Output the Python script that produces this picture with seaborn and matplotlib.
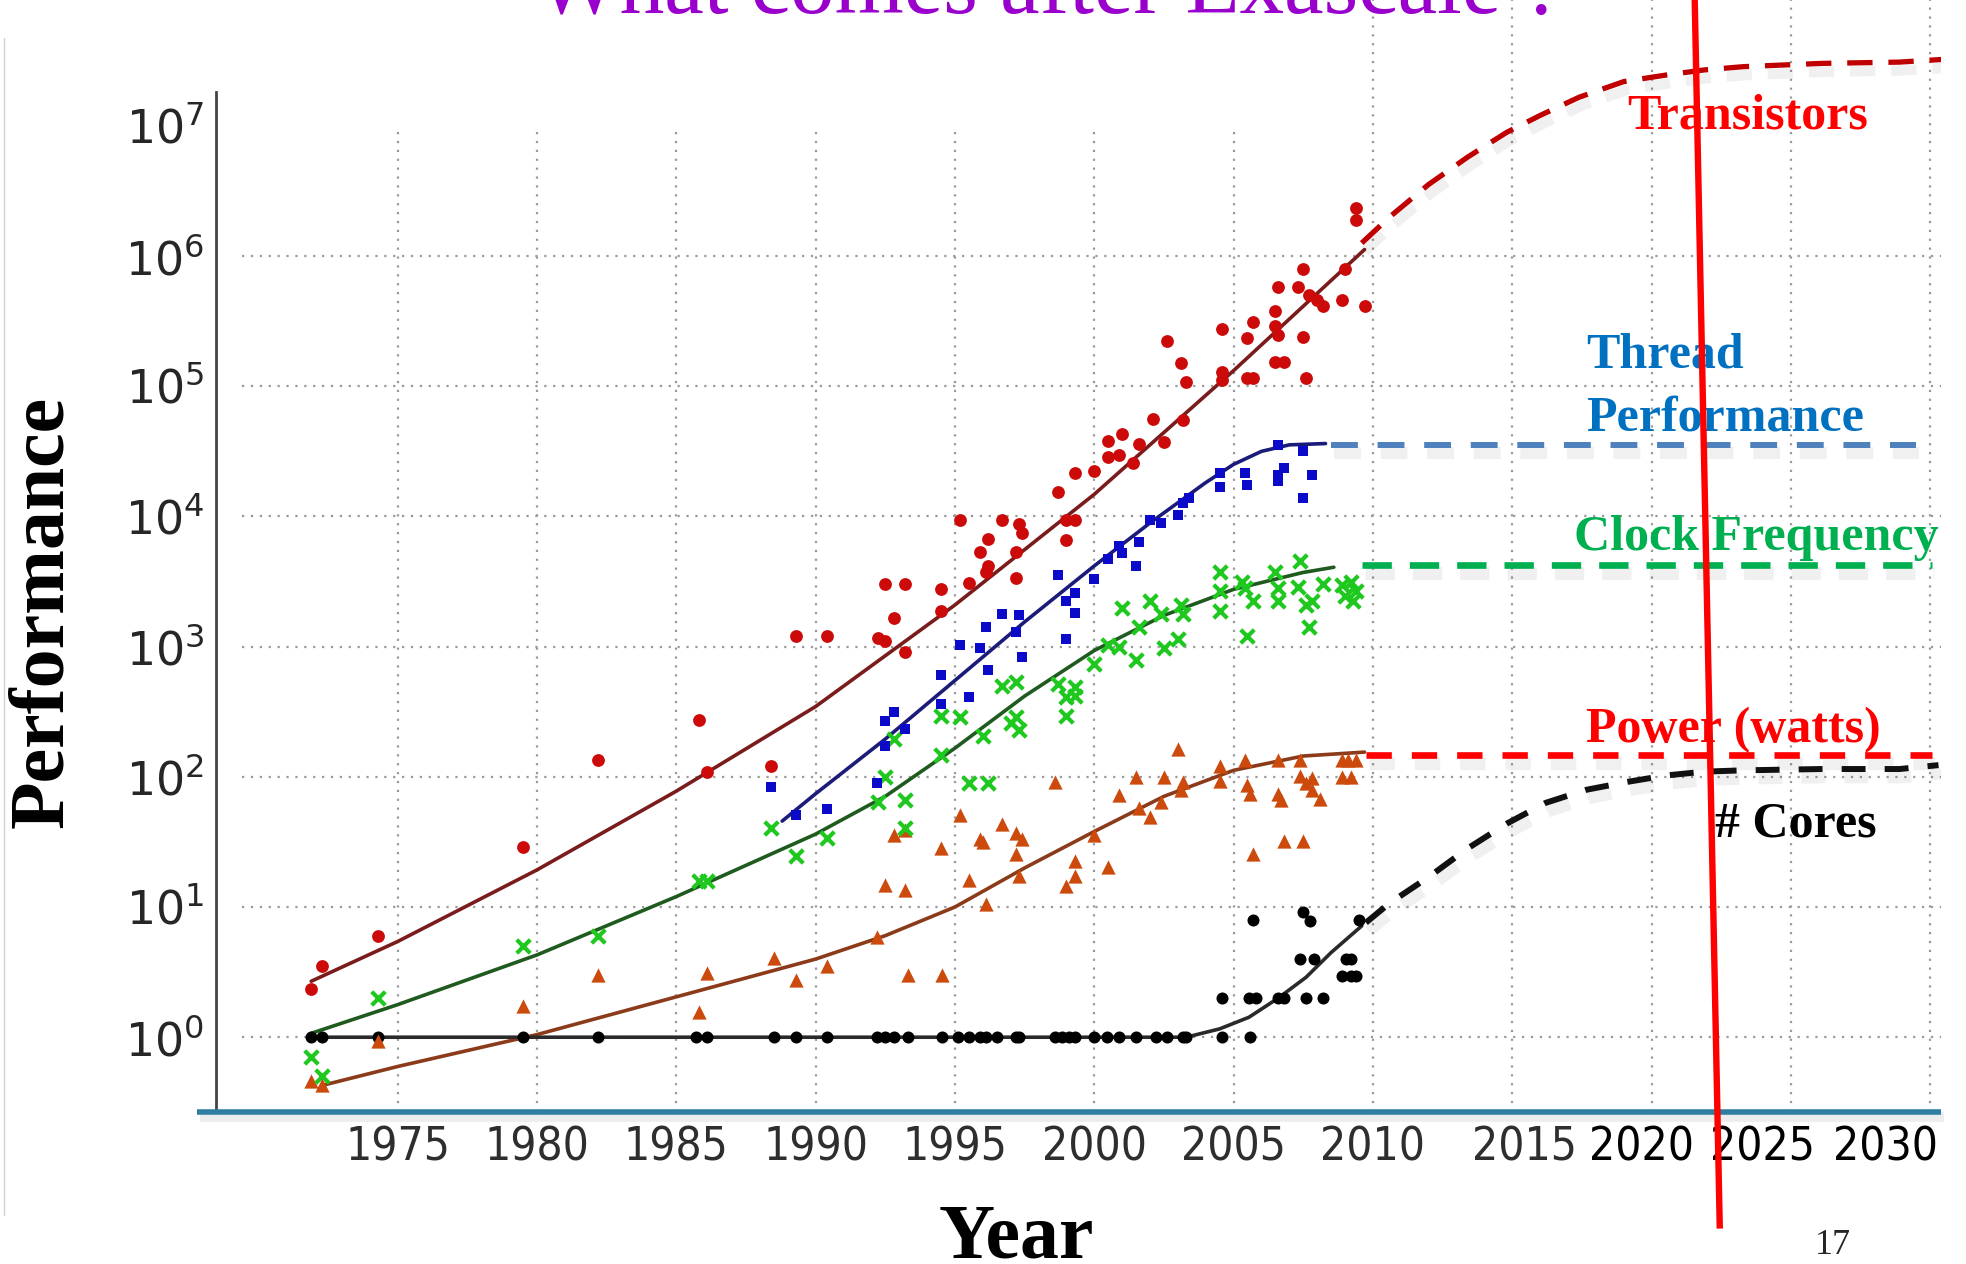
import numpy as np
import matplotlib
matplotlib.use('Agg')
import matplotlib.pyplot as plt
import matplotlib.patheffects as pe
from matplotlib import font_manager as fm
from matplotlib.lines import Line2D
from matplotlib.ticker import FixedLocator, NullFormatter
import seaborn as sns
import warnings
warnings.filterwarnings('ignore')

sns.set_style('white')
plt.rcParams['font.family'] = ['DejaVu Sans']

# ---------------- data (values as log10) ----------------
tr_year = [1971.9, 1972.3, 1974.3, 1979.5, 1982.2, 1985.8, 1986.1, 1988.4, 1989.3, 1990.4,
           1992.25, 1992.5, 1992.8, 1993.2, 1992.5, 1993.2, 1994.5, 1994.5, 1995.2, 1995.5,
           1995.9, 1996.2, 1996.2, 1996.1, 1996.7, 1997.2, 1997.2, 1997.3, 1997.4, 1998.7,
           1999.0, 1999.0, 1999.3, 1999.3, 2000.0, 2000.5, 2001.0, 2000.5, 2000.9, 2001.4,
           2001.6, 2002.1, 2002.5, 2003.2, 2002.6, 2003.1, 2003.3, 2004.6, 2004.6, 2004.6,
           2005.5, 2005.7, 2005.5, 2005.7, 2006.5, 2006.6, 2006.5, 2006.6, 2006.5, 2006.8,
           2007.5, 2007.3, 2007.5, 2007.6, 2007.7, 2008.0, 2008.2, 2008.9, 2009.0, 2009.4,
           2009.4, 2009.7]
tr_log = [0.37, 0.55, 0.78, 1.46, 2.13, 2.44, 2.04, 2.08, 3.08, 3.08,
          3.07, 3.04, 3.22, 2.96, 3.48, 3.48, 3.44, 3.27, 3.97, 3.49,
          3.73, 3.83, 3.62, 3.57, 3.97, 3.73, 3.53, 3.94, 3.87, 4.19,
          3.82, 3.97, 3.97, 4.33, 4.35, 4.58, 4.63, 4.46, 4.47, 4.41,
          4.56, 4.75, 4.57, 4.74, 5.35, 5.18, 5.03, 5.44, 5.11, 5.05,
          5.37, 5.49, 5.06, 5.06, 5.58, 5.76, 5.46, 5.39, 5.19, 5.19,
          5.90, 5.76, 5.38, 5.06, 5.70, 5.66, 5.62, 5.66, 5.90, 6.37,
          6.28, 5.62]

th_year = [1988.4, 1989.3, 1990.4, 1992.2, 1992.5, 1992.5, 1992.8, 1993.2, 1994.5, 1994.5,
           1995.2, 1995.5, 1995.9, 1996.1, 1996.2, 1996.7, 1997.2, 1997.3, 1997.4, 1998.7,
           1999.0, 1999.3, 1999.3, 1999.0, 2000.0, 2000.5, 2000.9, 2001.0, 2001.5, 2001.6,
           2002.0, 2002.4, 2003.0, 2003.2, 2003.4, 2004.5, 2004.5, 2005.4, 2005.5, 2006.6,
           2006.6, 2006.8, 2006.6, 2007.5, 2007.8, 2007.5]
th_log = [1.92, 1.71, 1.75, 1.95, 2.24, 2.43, 2.50, 2.37, 2.56, 2.78,
          3.01, 2.61, 2.99, 3.15, 2.82, 3.25, 3.11, 3.24, 2.92, 3.55,
          3.35, 3.41, 3.26, 3.06, 3.52, 3.67, 3.77, 3.72, 3.62, 3.80,
          3.97, 3.95, 4.01, 4.10, 4.14, 4.33, 4.23, 4.33, 4.24, 4.55,
          4.32, 4.37, 4.27, 4.50, 4.32, 4.14]

ck_year = [1971.9, 1972.3, 1974.3, 1979.5, 1982.2, 1985.8, 1986.1, 1988.4, 1989.3, 1990.4,
           1992.25, 1992.5, 1992.8, 1993.2, 1993.2, 1994.5, 1994.5, 1995.2, 1995.5, 1996.2,
           1996.0, 1997.0, 1997.2, 1997.3, 1996.7, 1997.2, 1998.7, 1999.0, 1999.0, 1999.3,
           1999.3, 2000.0, 2000.5, 2000.9, 2001.5, 2001.0, 2001.6, 2002.0, 2002.4, 2002.5,
           2003.0, 2003.1, 2003.2, 2004.5, 2004.5, 2004.5, 2005.3, 2005.4, 2005.7, 2005.5,
           2006.5, 2006.6, 2006.6, 2007.4, 2007.3, 2007.6, 2007.8, 2007.7, 2008.2, 2008.9,
           2009.2, 2009.4, 2009.0, 2009.3]
ck_log = [-0.15, -0.30, 0.30, 0.70, 0.78, 1.20, 1.20, 1.61, 1.39, 1.53,
          1.81, 2.00, 2.29, 1.82, 1.61, 2.17, 2.47, 2.46, 1.95, 1.95,
          2.31, 2.41, 2.46, 2.36, 2.70, 2.73, 2.71, 2.61, 2.47, 2.69,
          2.62, 2.87, 3.01, 3.00, 2.90, 3.30, 3.15, 3.35, 3.25, 2.99,
          3.06, 3.32, 3.25, 3.57, 3.43, 3.27, 3.50, 3.45, 3.35, 3.08,
          3.57, 3.45, 3.35, 3.66, 3.46, 3.32, 3.35, 3.15, 3.48, 3.47,
          3.50, 3.43, 3.39, 3.35]

pw_year = [1971.9, 1972.3, 1974.3, 1979.5, 1982.2, 1985.8, 1986.1, 1988.5, 1989.3, 1990.4,
           1992.2, 1992.5, 1993.2, 1993.3, 1994.55, 1995.5, 1996.1, 1992.8, 1993.2, 1994.5,
           1995.2, 1995.9, 1996.0, 1996.7, 1997.2, 1997.4, 1997.2, 1997.3, 1998.6, 1999.0,
           1999.3, 1999.3, 2000.0, 2000.5, 2000.9, 2001.5, 2001.6, 2002.0, 2002.4, 2002.5,
           2003.0, 2003.1, 2003.2, 2004.5, 2004.5, 2005.4, 2005.5, 2005.6, 2005.7, 2006.6,
           2006.6, 2006.7, 2006.8, 2007.4, 2007.4, 2007.5, 2007.6, 2007.8, 2007.8, 2008.1,
           2008.9, 2009.1, 2009.4, 2008.9, 2009.2]
pw_log = [-0.34, -0.37, -0.03, 0.24, 0.48, 0.19, 0.49, 0.61, 0.44, 0.55,
          0.77, 1.17, 1.13, 0.48, 0.48, 1.21, 1.02, 1.55, 1.59, 1.45,
          1.71, 1.52, 1.50, 1.64, 1.57, 1.52, 1.41, 1.24, 1.96, 1.16,
          1.35, 1.24, 1.55, 1.31, 1.86, 2.00, 1.76, 1.69, 1.81, 2.00,
          2.21, 1.90, 1.96, 2.08, 1.97, 2.13, 1.94, 1.87, 1.41, 2.13,
          1.87, 1.82, 1.51, 2.13, 2.01, 1.51, 1.95, 1.99, 1.90, 1.83,
          2.13, 2.13, 2.13, 2.00, 2.00]

co_year = [1971.9, 1972.3, 1974.3, 1979.5, 1982.2, 1985.7, 1986.1, 1988.5, 1989.3, 1990.4,
           1992.2, 1992.5, 1992.8, 1993.3, 1994.55, 1995.1, 1995.5, 1995.9, 1996.1, 1996.5,
           1997.2, 1997.3, 1998.6, 1998.85, 1999.1, 1999.3, 2000.0, 2000.45, 2000.9, 2001.5,
           2002.2, 2002.6, 2003.2, 2003.3, 2004.6, 2005.6,
           2004.6, 2005.55, 2005.8, 2006.6, 2006.8, 2007.6, 2008.2, 2005.7, 2007.5, 2007.75,
           2007.4, 2007.9, 2009.05, 2009.2, 2008.9, 2009.2, 2009.4, 2009.5]
co_log = [0.0] * 36 + [0.30, 0.30, 0.30, 0.30, 0.30, 0.30, 0.30, 0.90, 0.96, 0.89,
                       0.60, 0.60, 0.60, 0.60, 0.47, 0.47, 0.47, 0.90]

# fitted trend curves
tr_fit_year = [1971.9, 1975, 1980, 1985, 1990, 1995, 2000, 2005, 2009.7]
tr_fit_log = [0.43, 0.735, 1.285, 1.89, 2.54, 3.32, 4.17, 5.12, 6.05]
th_fit_year = [1988.8, 1990, 1992.5, 1995, 1997.5, 2000, 2002, 2004, 2005, 2006, 2007, 2008.3]
th_fit_log = [1.66, 1.87, 2.29, 2.74, 3.19, 3.62, 3.95, 4.26, 4.40, 4.50, 4.55, 4.56]
ck_fit_year = [1971.9, 1975, 1980, 1985, 1990, 1992.5, 1995, 1997.5, 2000, 2002.5, 2005, 2007.5, 2008.6]
ck_fit_log = [0.03, 0.25, 0.632, 1.08, 1.56, 1.85, 2.22, 2.62, 2.97, 3.24, 3.44, 3.57, 3.61]
pw_fit_year = [1972.3, 1975, 1980, 1985, 1990, 1992.5, 1995, 1997.5, 2000, 2002.5, 2005, 2007.5, 2009.7]
pw_fit_log = [-0.37, -0.225, 0.02, 0.31, 0.60, 0.78, 1.00, 1.30, 1.58, 1.85, 2.05, 2.16, 2.19]
co_fit_year = [1972, 2003.3, 2004.5, 2005.55, 2006.6, 2007.6, 2008.5, 2009.6]
co_fit_log = [0, 0, 0.064, 0.153, 0.30, 0.46, 0.65, 0.855]

# projected (dashed) extensions
tr_ext_year = [2009.6, 2010.6, 2012.0, 2013.4, 2014.8, 2016.0, 2017.4, 2019.0, 2020.5, 2021.9,
               2023.3, 2026.1, 2028.9, 2030.4]
tr_ext_log = [6.10, 6.30, 6.55, 6.76, 6.95, 7.08, 7.22, 7.34, 7.39, 7.43,
              7.455, 7.48, 7.49, 7.51]
th_ext_year = [2008.5, 2029.5]
th_ext_log = [4.55, 4.55]
ck_ext_year = [2009.6, 2030.05]
ck_ext_log = [3.63, 3.63]
pw_ext_year = [2009.75, 2030.05]
pw_ext_log = [2.17, 2.17]
co_ext_year = [2009.75, 2010.6, 2012.0, 2013.4, 2014.8, 2016.2, 2017.65, 2019.1, 2020.5, 2021.9,
               2023.3, 2026.1, 2028.9, 2030.3]
co_ext_log = [0.88, 1.03, 1.23, 1.45, 1.64, 1.80, 1.90, 1.96, 2.01, 2.04,
              2.05, 2.06, 2.06, 2.09]

grid_years = [1975, 1980, 1985, 1990, 1995, 2000, 2005, 2010, 2015, 2020, 2025, 2030]
xtick_labels = ['1975', '1980', '1985', '1990', '1995', '2000', '2005', '2010', '2015',
                '2020', '2025', '2030']

# ---------------- figure ----------------
fig = plt.figure(figsize=(19.66, 12.64), dpi=100)
ax = fig.add_axes([0.1097, 0.1203, 0.8776, 0.8797])
ax.set_yscale('log')
y_lo, y_hi = 10 ** -0.574, 10 ** 7.967
ax.set_xlim(1968.47, 2030.39)
ax.set_ylim(y_lo, y_hi)

grid_kw = dict(colors='#9a9a9a', linestyles=(0, (1, 3)), linewidths=1.6, zorder=1)
ax.hlines([10.0 ** k for k in range(7)], 1969.4, 2030.4, **grid_kw)
ax.vlines([g for g in grid_years if g < 2010], y_lo, 10 ** 6.96, **grid_kw)
ax.vlines([g for g in grid_years if g >= 2010], y_lo, y_hi, **grid_kw)

def pw10(v):
    return 10 ** np.asarray(v, dtype=float)

# fitted curves
fit_kw = dict(ax=ax, sort=False, estimator=None, linewidth=2.6, zorder=2, legend=False)
sns.lineplot(x=tr_fit_year, y=pw10(tr_fit_log), color='#7a1c1c', **fit_kw)
sns.lineplot(x=th_fit_year, y=pw10(th_fit_log), color='#1b1b7a', **fit_kw)
sns.lineplot(x=ck_fit_year, y=pw10(ck_fit_log), color='#1f5a1f', **fit_kw)
sns.lineplot(x=pw_fit_year, y=pw10(pw_fit_log), color='#8b3a1a', **fit_kw)
sns.lineplot(x=co_fit_year, y=pw10(co_fit_log), color='#2a2a2a', **fit_kw)

# measured points
sns.scatterplot(x=co_year, y=pw10(co_log), marker='o', color='black', s=75, linewidth=0, ax=ax, zorder=3, legend=False)
sns.scatterplot(x=pw_year, y=pw10(pw_log), marker='^', color='#cc4a0c', s=105, linewidth=0, ax=ax, zorder=3, legend=False)
sns.scatterplot(x=ck_year, y=pw10(ck_log), marker='x', color='#1ec81e', s=95, linewidth=3.0, ax=ax, zorder=3, legend=False)
sns.scatterplot(x=th_year, y=pw10(th_log), marker='s', color='#0a0ac8', s=62, linewidth=0, ax=ax, zorder=3, legend=False)
sns.scatterplot(x=tr_year, y=pw10(tr_log), marker='o', color='#cc0a0a', s=85, linewidth=0, ax=ax, zorder=3, legend=False)

# dashed projections with a soft shadow
def projection(xs, logs, color, lw, dash):
    shadow = [pe.SimpleLineShadow(offset=(2, -6), shadow_color='black', alpha=0.06,
                                  linewidth=lw * 2.0), pe.Normal()]
    sns.lineplot(x=xs, y=pw10(logs), color=color, linewidth=lw, linestyle=(0, dash),
                 ax=ax, sort=False, estimator=None, zorder=4, legend=False,
                 path_effects=shadow)

projection(tr_ext_year, tr_ext_log, '#c00000', 3.8, (4.8, 3.0))
projection(th_ext_year, th_ext_log, '#4f81bd', 4.3, (4.5, 3.3))
projection(ck_ext_year, ck_ext_log, '#00b050', 4.8, (4.4, 2.7))
projection(pw_ext_year, pw_ext_log, '#ff0000', 4.8, (3.8, 3.0))
projection(co_ext_year, co_ext_log, '#111111', 4.3, (4.0, 3.2))

# axes cosmetics
for side in ['top', 'right', 'bottom']:
    ax.spines[side].set_visible(False)
ax.spines['left'].set_color('#444444')
ax.spines['left'].set_linewidth(2)
ax.spines['left'].set_bounds(y_lo, 10 ** 7.264)

ax.set_yticks([10.0 ** k for k in range(8)])
minor = [m * 10.0 ** k for k in range(-1, 7) for m in range(2, 10) if m * 10.0 ** k > y_lo]
ax.yaxis.set_minor_locator(FixedLocator(minor))
ax.yaxis.set_minor_formatter(NullFormatter())
ax.tick_params(axis='y', which='major', direction='in', length=11, width=1.6,
               colors='#444444', labelsize=33, labelcolor='#262626', pad=8)
ax.tick_params(axis='y', which='minor', direction='in', length=6, width=1.2, colors='#555555')

# x tick labels: condensed face if available
cond_file = fm.findfont(fm.FontProperties(family='DejaVu Sans', stretch='condensed'))
if 'Condensed' in cond_file:
    xfont = dict(family='DejaVu Sans', stretch='condensed', size=33)
else:
    xfont = dict(family='DejaVu Sans', size=30)
xtick_pos = grid_years[:8] + [2015.45, 2019.64, 2024.0, 2028.4]
ax.set_xticks(xtick_pos)
ax.set_xticklabels(xtick_labels, **xfont)
ax.tick_params(axis='x', length=0, pad=10)
for i, lab in enumerate(ax.get_xticklabels()):
    lab.set_color('#2e2e2e' if i < 9 else 'black')
ax.set_xlabel('')
ax.set_ylabel('')

# thick blue baseline
ax.plot([1967.8, 2030.4], [y_lo, y_lo], color='#2f7ea1', linewidth=4, clip_on=False,
        zorder=6, solid_capstyle='butt',
        path_effects=[pe.SimpleLineShadow(offset=(2, -4), alpha=0.07, linewidth=7), pe.Normal()])

# annotations
ser = ['Liberation Serif', 'DejaVu Serif']
ann = dict(family=ser, fontweight='bold', fontsize=36, ha='left', va='baseline', zorder=5)
ax.text(2019.14, 10 ** 6.983, 'Transistors', color='#ff0000', **ann)
ax.text(2017.65, 10 ** 5.142, 'Thread', color='#0070c0', **ann)
ax.text(2017.65, 10 ** 4.658, 'Performance', color='#0070c0', **ann)
ax.text(2017.22, 10 ** 3.743, 'Clock Frequency', color='#00b050', **ann)
ax.text(2017.65, 10 ** 2.268, 'Power (watts)', color='#ff0000', **ann)
ax.text(2022.28, 10 ** 1.54, '# Cores', color='black', **ann)

# red "now" marker line
ax.plot([2021.55, 2022.45], [y_hi, 10 ** -1.47], color='#ff0000', linewidth=4.6,
        clip_on=False, zorder=9, solid_capstyle='butt')

# slide texts
fig.text(0.534, 1 - 13 / 1264, 'What comes after Exascale ?', family=ser, fontsize=64,
         color='#9a00cc', ha='center', va='baseline')
fig.text(44 / 1966, 0.516, 'Performance', family=ser, fontweight='bold', fontsize=56,
         rotation=90, ha='center', va='center', color='black')
fig.text(1016 / 1966, 6.5 / 1264, 'Year', family=ser, fontweight='bold', fontsize=56,
         ha='center', va='baseline', color='black')
fig.text(1833 / 1966, 10 / 1264, '17', family=ser, fontsize=26, ha='center', va='baseline')
fig.add_artist(Line2D([4 / 1966, 4 / 1966], [1 - 38 / 1264, 1 - 1215 / 1264],
                      color='#d0d0d0', linewidth=1))

fig.savefig('out.png', dpi=100)
